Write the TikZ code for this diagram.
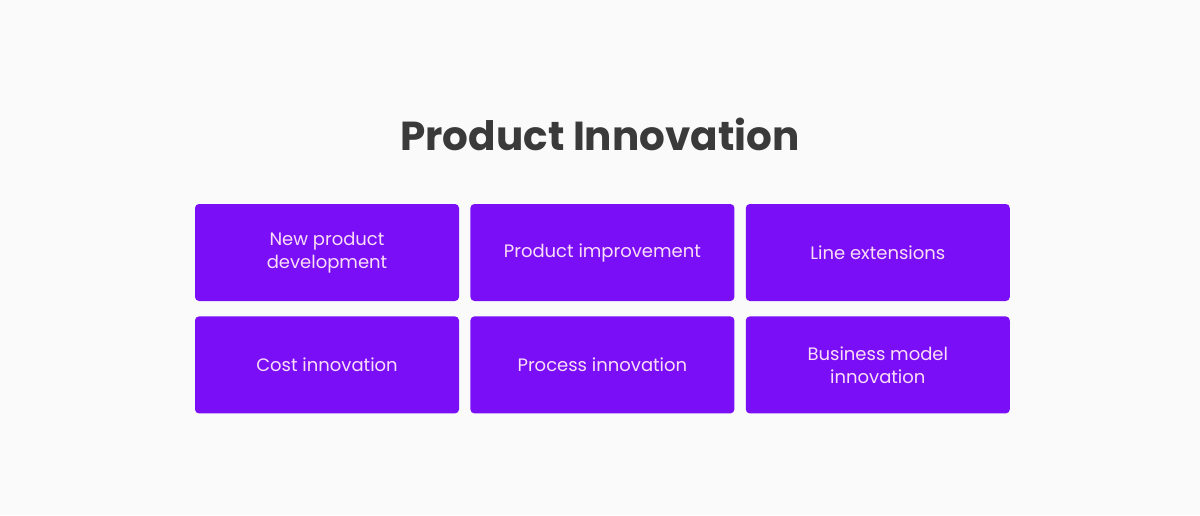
\documentclass[tikz,border=0pt]{standalone}
\usepackage{fontspec}
\setmainfont{Poppins}
\usetikzlibrary{positioning}
\definecolor{bgGray}{HTML}{FAFAFA}
\definecolor{boxPurple}{HTML}{7A0FF7}
\definecolor{boxText}{HTML}{FCDDF6}
\definecolor{titleGray}{HTML}{3A3A3A}

\begin{document}
\begin{tikzpicture}[x=1pt,y=-1pt,
		cell/.style={fill=boxPurple, rounded corners=4pt, minimum width=264pt, minimum height=97pt, inner sep=0pt, text=boxText, align=center, font=\fontsize{18}{23}\selectfont},
		title/.style={text=titleGray, font=\fontsize{40.5}{48}\selectfont\bfseries}
	]
	\fill[bgGray] (0,0) rectangle (1200,515);
	\useasboundingbox (0,0) rectangle (1200,515);
	\node[title] (ttl) at (600,134) {Product Innovation};
	% first row
	\node[cell] (np) at (327,252.5) {New product\\development};
	\node[cell, right=11pt of np] (pi) {Product improvement};
	\node[cell, right=11pt of pi] (le) {Line extensions};
	% second row
	\node[cell, below=15pt of np] (ci) {Cost innovation};
	\node[cell, right=11pt of ci] (pr) {Process innovation};
	\node[cell, right=11pt of pr] (bm) {Business model\\innovation};
\end{tikzpicture}
\end{document}
